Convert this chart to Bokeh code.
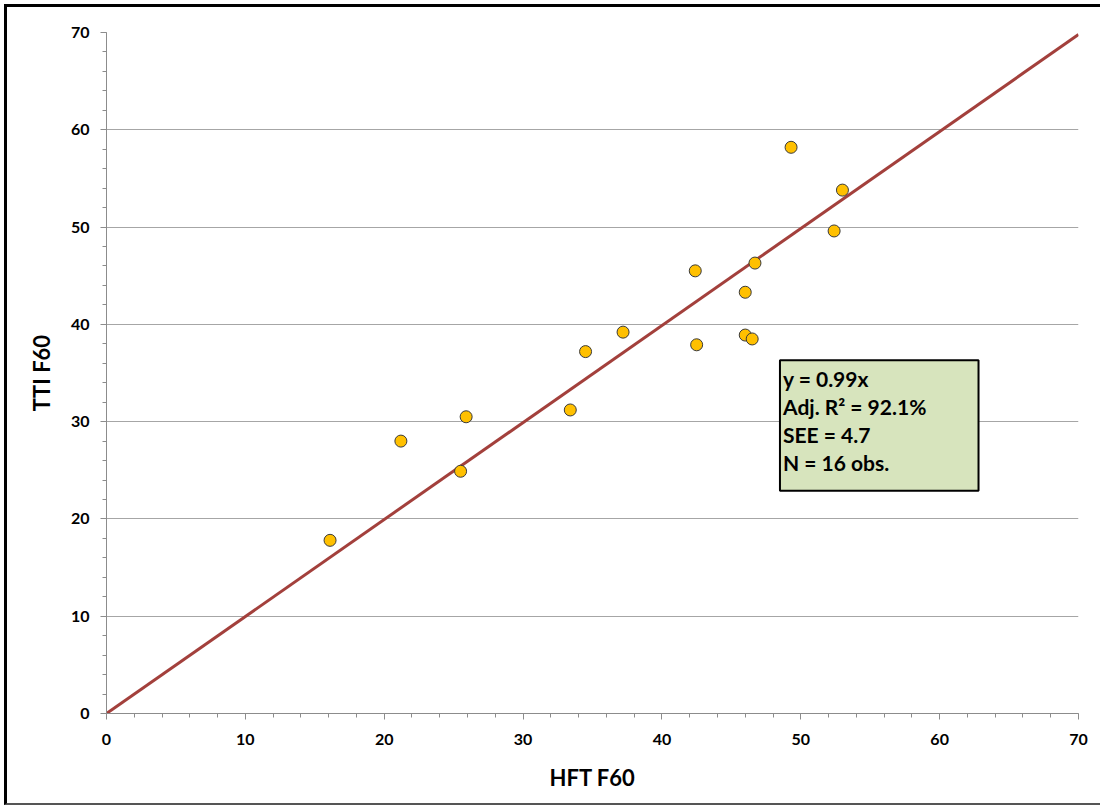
from bokeh.plotting import figure
from bokeh.models import Range1d, SingleIntervalTicker, BoxAnnotation, Label, ColumnDataSource
from bokeh.embed import file_html
from bokeh.resources import INLINE

# Data
hft_f60 = [16.1, 21.2, 25.5, 25.9, 33.4, 34.5, 37.2, 42.4, 42.5, 46.0, 46.0, 46.5, 46.7, 49.3, 52.4, 53.0]
tti_f60 = [17.8, 28.0, 24.9, 30.5, 31.2, 37.2, 39.2, 45.5, 37.9, 43.3, 38.9, 38.5, 46.3, 58.2, 49.6, 53.8]
slope = 0.997  # fitted slope (shown rounded as 0.99)
fit_x = [0, 70]
fit_y = [slope * v for v in fit_x]
stats_lines = ["y = 0.99x", "Adj. R\u00b2 = 92.1%", "SEE = 4.7", "N = 16 obs."]

FONT = "Lato"

p = figure(width=1096, height=801, output_backend="svg", toolbar_location=None,
           x_range=Range1d(0, 70), y_range=Range1d(0, 70),
           min_border_left=99, min_border_right=25, min_border_top=25, min_border_bottom=95)
p.outline_line_color = None
p.background_fill_color = "white"
p.border_fill_color = "white"
p.styles = {"margin-left": "4px", "margin-top": "4px",
            "border-left": "3px solid black", "border-top": "3px solid black",
            "border-bottom": "2px solid #555555"}

for ax in (p.xaxis[0], p.yaxis[0]):
    ax.ticker = SingleIntervalTicker(interval=10, num_minor_ticks=5)
    ax.axis_line_color = "#8c8c8c"
    ax.major_tick_line_color = "#8c8c8c"
    ax.minor_tick_line_color = "#8c8c8c"
    ax.major_tick_out = 6
    ax.major_tick_in = 0
    ax.minor_tick_out = 4
    ax.minor_tick_in = 0
    ax.major_label_text_font = FONT
    ax.major_label_text_font_style = "bold"
    ax.major_label_text_font_size = "16px"
    ax.major_label_text_color = "black"
    ax.axis_label_text_font = FONT
    ax.axis_label_text_font_style = "bold"
    ax.axis_label_text_font_size = "22px"
    ax.axis_label_text_color = "black"

p.xaxis.axis_label = "HFT F60"
p.yaxis.axis_label = "TTI F60"
p.xaxis.axis_label_standoff = 16
p.yaxis.axis_label_standoff = 13
p.xaxis.major_label_standoff = 14
p.yaxis.major_label_standoff = 11

p.xgrid.grid_line_color = None
p.ygrid.ticker = SingleIntervalTicker(interval=10)
p.ygrid.grid_line_color = "#a6a6a6"
p.ygrid.grid_line_width = 1

p.line(fit_x, fit_y, line_color="#A3403C", line_width=3)

src = ColumnDataSource(dict(x=hft_f60, y=tti_f60))
p.scatter("x", "y", source=src, size=12, fill_color="#FFC000", line_color="#3a3a3a", line_width=1)

box = BoxAnnotation(left=48.5, right=62.8, bottom=22.9, top=36.3,
                    fill_color="#D7E4BD", fill_alpha=1.0,
                    line_color="black", line_alpha=1.0, line_width=2)
p.add_layout(box)

line_ys = [34.45, 31.55, 28.65, 25.75]
for txt, ly in zip(stats_lines, line_ys):
    p.add_layout(Label(x=48.72, y=ly, text=txt, text_font=FONT, text_font_style="bold",
                       text_font_size="21px", text_color="black", text_baseline="middle"))

open("out.html", "w").write(file_html(p, INLINE))
